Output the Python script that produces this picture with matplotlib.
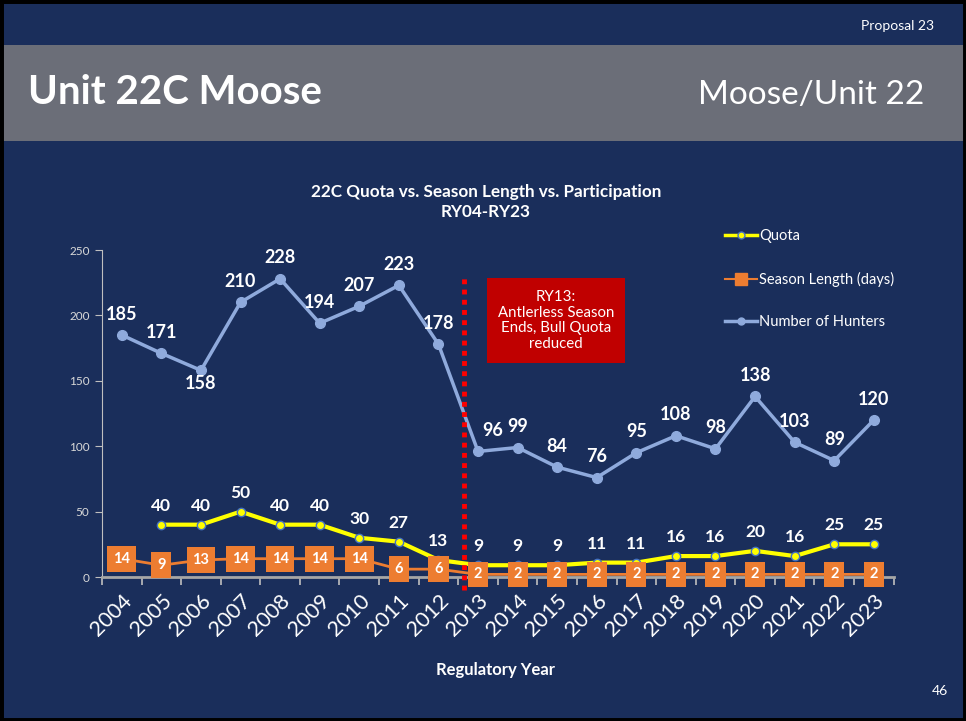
import matplotlib
matplotlib.use('Agg')
import numpy as np
import matplotlib.pyplot as plt
from matplotlib.patches import Rectangle
from matplotlib.lines import Line2D

years = [str(y) for y in range(2004, 2024)]
quota = [np.nan, 40, 40, 50, 40, 40, 30, 27, 13, 9, 9, 9, 11, 11, 16, 16, 20, 16, 25, 25]
season = [14, 9, 13, 14, 14, 14, 14, 6, 6, 2, 2, 2, 2, 2, 2, 2, 2, 2, 2, 2]
hunters = [185, 171, 158, 210, 228, 194, 207, 223, 178, 96, 99, 84, 76, 95, 108, 98, 138, 103, 89, 120]
yticks = [0, 50, 100, 150, 200, 250]

navy = '#1A2E5B'
gray_bar = '#6B6E78'
c_quota = '#FFFF00'
c_season = '#ED7D31'
c_hunt = '#8FAADC'
c_axis = '#BFBFBF'

plt.rcParams['font.family'] = ['Lato', 'DejaVu Sans']

W, H = 966, 721
fig = plt.figure(figsize=(W / 100, H / 100), dpi=100)
fig.patch.set_facecolor(navy)


def fx(px):
    return px / W


def fy(py):
    return 1 - py / H


# barra gris del titulo y borde negro
fig.patches.append(Rectangle((0, fy(141)), 1, fy(45) - fy(141), transform=fig.transFigure,
                             facecolor=gray_bar, edgecolor='none', zorder=0))
fig.patches.append(Rectangle((0, 0), 1, 1, transform=fig.transFigure, facecolor='none',
                             edgecolor='black', linewidth=5, zorder=10))

fig.text(fx(934), fy(26), 'Proposal 23', color='white', fontsize=10, ha='right', va='center')
fig.text(fx(28), fy(93), 'Unit 22C Moose', color='white', fontsize=29, fontweight='bold',
         ha='left', va='center')
fig.text(fx(924), fy(95), 'Moose/Unit 22', color='white', fontsize=24, fontweight='normal',
         ha='right', va='center')
fig.text(fx(940), fy(691), '46', color='white', fontsize=10, ha='center', va='center')

# ejes
ax = fig.add_axes([fx(102), fy(577), fx(893.6) - fx(102), fy(250) - fy(577)])
ax.set_facecolor(navy)
x = np.arange(len(years))

ax.plot(x, hunters, color=c_hunt, lw=2.5, marker='o', ms=7, mfc=c_hunt, mec=c_hunt, zorder=3)
ax.plot(x, quota, color=c_quota, lw=3, marker='o', ms=6, mfc=c_quota, mec='#4472C4', mew=1, zorder=4)
ax.plot(x, season, color=c_season, lw=2, marker='s', ms=8, mfc=c_season, mec=c_season, zorder=5)

ax.set_xlim(-0.5, len(years) - 0.5)
ax.set_ylim(0, 250)
ax.set_yticks(yticks)
ax.set_xticks(x)
ax.set_xticklabels(years, rotation=45, ha='right', rotation_mode='anchor', fontsize=15.5, color='white')
ax.set_xticks(np.arange(-0.5, len(years)), minor=True)
ax.tick_params(axis='x', which='major', length=0, pad=10)
ax.tick_params(axis='x', which='minor', length=6, color=c_axis, width=1.2)
ax.tick_params(axis='y', length=5, color=c_axis, labelcolor='#D9D9D9', labelsize=8.5, pad=4)
for s in ['top', 'right']:
    ax.spines[s].set_visible(False)
ax.spines['left'].set_color(c_axis)
ax.spines['bottom'].set_color('#A6A6A6')
ax.spines['bottom'].set_linewidth(2)

# etiquetas de datos
for i, v in enumerate(hunters):
    dx, dy = 0, 21
    if v == 158:
        dy = -13
    if v == 96:
        dx = 15
    ax.annotate(str(v), (i, v), xytext=(dx, dy), textcoords='offset pixels', ha='center',
                va='center', color='white', fontsize=13, fontweight='bold', zorder=6)
for i, v in enumerate(quota):
    if np.isnan(v):
        continue
    ax.annotate(str(int(v)), (i, v), xytext=(0, 19), textcoords='offset pixels', ha='center',
                va='center', color='white', fontsize=12.5, fontweight='bold', zorder=6)
for i, v in enumerate(season):
    ax.text(i, v, str(v), ha='center', va='center', color='white', fontsize=10.5,
            fontweight='bold', zorder=7,
            bbox=dict(boxstyle='square,pad=0.4', facecolor=c_season, edgecolor='none'))

# linea RY13
ax.plot([8.65, 8.65], [-10, 229], color='#FF0000', lw=3.5, linestyle=(0, (1.0, 1.1)),
        clip_on=False, zorder=8)

fig.patches.append(Rectangle((fx(487), fy(363)), fx(625) - fx(487), fy(278) - fy(363),
                             transform=fig.transFigure, facecolor='#C00000', edgecolor='none', zorder=1))
fig.text(fx(556), fy(320.5), 'RY13:\nAntlerless Season\nEnds, Bull Quota\nreduced', color='white',
         fontsize=10.8, ha='center', va='center', linespacing=1.15)

fig.text(fx(486), fy(202), '22C Quota vs. Season Length vs. Participation\nRY04-RY23', color='white',
         fontsize=12.3, fontweight='bold', ha='center', va='center', linespacing=1.3)
fig.text(fx(495), fy(670), 'Regulatory Year', color='white', fontsize=12, fontweight='bold',
         ha='center', va='center')

handles = [
    Line2D([], [], color=c_quota, lw=2.5, marker='o', ms=5, mfc=c_quota, mec='#4472C4'),
    Line2D([], [], color=c_season, lw=1.5, marker='s', ms=9, mfc=c_season, mec=c_season),
    Line2D([], [], color=c_hunt, lw=2.5, marker='o', ms=5, mfc=c_hunt, mec=c_hunt),
]
leg = fig.legend(handles, ['Quota', 'Season Length (days)', 'Number of Hunters'],
                 loc='upper left', bbox_to_anchor=(fx(718), fy(222)), frameon=False,
                 labelcolor='white', fontsize=10.5, handlelength=2.2, handletextpad=0.1,
                 labelspacing=1.95, borderpad=0)

fig.savefig('out.png', dpi=100, facecolor=fig.get_facecolor())
